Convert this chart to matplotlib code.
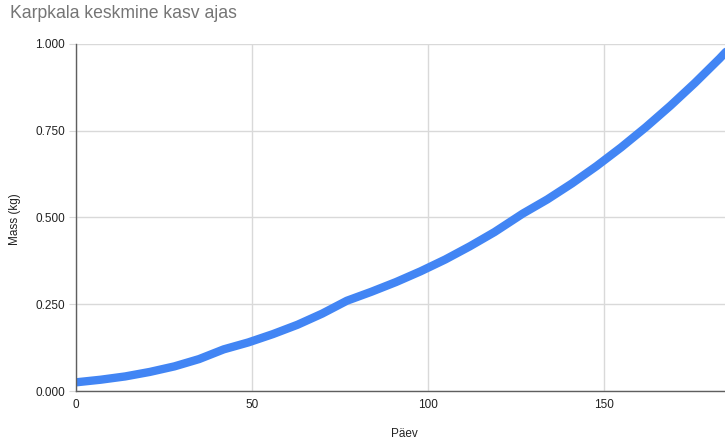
import matplotlib
matplotlib.use("Agg")
import matplotlib.pyplot as plt
from matplotlib.ticker import FuncFormatter

plt.rcParams['font.family'] = ['Liberation Sans', 'DejaVu Sans']

# Average carp mass (kg) by day
days = [0, 7, 14, 21, 28, 35, 42, 49, 56, 63, 70, 77, 84, 91, 98, 105, 112,
        119, 127, 134, 141, 148, 155, 162, 169, 176, 183, 186]
mass = [0.025, 0.0325, 0.042, 0.055, 0.071, 0.092, 0.120, 0.140, 0.164, 0.191,
        0.223, 0.260, 0.286, 0.314, 0.345, 0.379, 0.417, 0.458, 0.511, 0.552,
        0.598, 0.648, 0.702, 0.760, 0.822, 0.888, 0.958, 0.990]

x_ticks = [0, 50, 100, 150]
y_ticks = [0.0, 0.25, 0.5, 0.75, 1.0]

title = "Karpkala keskmine kasv ajas"
x_label = "Päev"
y_label = "Mass (kg)"

fig = plt.figure(figsize=(7.25, 4.4), dpi=100)
ax = fig.add_axes([76 / 725, 1 - 391 / 440, (725 - 76) / 725 + 0.01, (391 - 44) / 440])

ax.plot(days, mass, color="#4285F4", linewidth=6.0, solid_capstyle="round",
        solid_joinstyle="round", zorder=3, clip_on=True)

ax.set_xlim(0, 186.6)
ax.set_ylim(0, 1.0)
ax.set_xticks(x_ticks)
ax.set_yticks(y_ticks)
ax.yaxis.set_major_formatter(FuncFormatter(lambda v, p: f"{v:.3f}"))

ax.grid(True, color="#d9d9d9", linewidth=1.0, zorder=0)
for side in ("top", "right"):
    ax.spines[side].set_visible(False)
for side in ("left", "bottom"):
    ax.spines[side].set_color("#5f5f5f")
    ax.spines[side].set_linewidth(1.0)
    ax.spines[side].set_zorder(4)

ax.tick_params(axis="y", length=5, color="#d9d9d9", labelsize=8.5,
               labelcolor="#222222", pad=3)
ax.tick_params(axis="x", length=0, labelsize=8.5, labelcolor="#222222", pad=6)

ax.set_xlabel(x_label, fontsize=8.5, color="#222222", labelpad=12)
fig.text(15 / 725, 1 - 219 / 440, y_label, fontsize=8.5, color="#222222",
         rotation=90, ha="center", va="center")

fig.text(10 / 725, 1 - 14 / 440, title, fontsize=12.7, color="#757575",
         ha="left", va="center")

fig.savefig("out.png", dpi=100, facecolor="white")
